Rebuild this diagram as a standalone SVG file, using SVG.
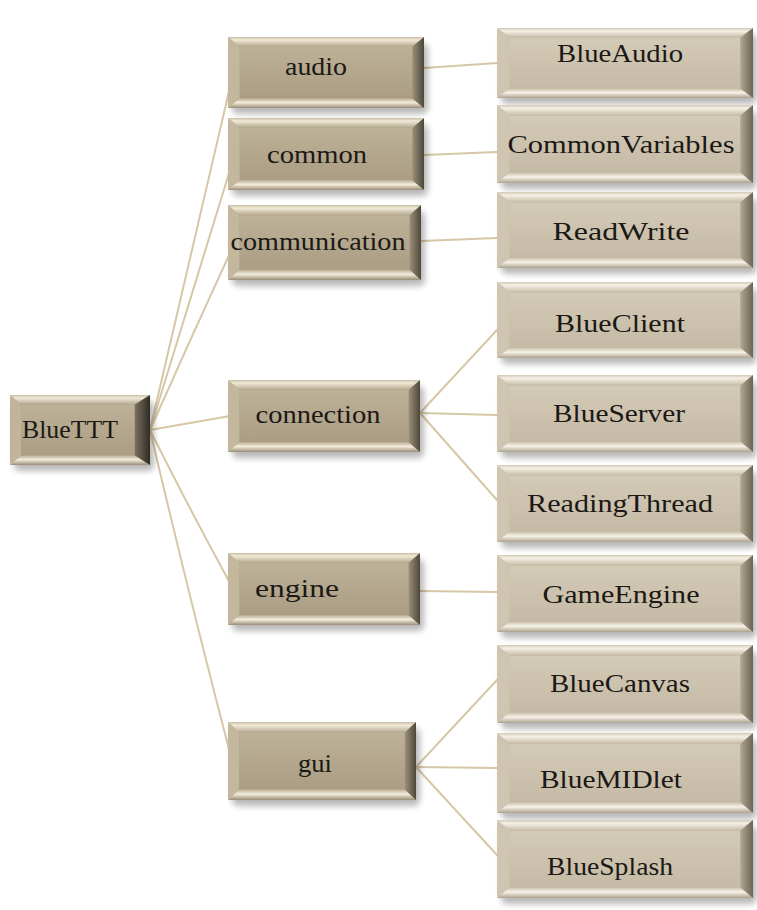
<svg xmlns="http://www.w3.org/2000/svg" xmlns:xlink="http://www.w3.org/1999/xlink" width="757" height="910" viewBox="0 0 757 910">
<style>
  .lbl { font-family: "Liberation Serif", "DejaVu Serif", serif; font-size: 26px; fill: #1b1815; text-anchor: middle; }
  .sh { fill: #000; opacity: 0.28; filter: url(#blur); }
  .con { fill: none; stroke: #d6c7a7; stroke-width: 2; stroke-linecap: round; }
</style>
<defs>
  <filter id="blur" x="-20%" y="-30%" width="140%" height="160%"><feGaussianBlur stdDeviation="3"/></filter>
  <linearGradient id="topM" x1="0" y1="0" x2="0" y2="1"><stop offset="0" stop-color="#c9bda4"/><stop offset="0.3" stop-color="#f1ead8"/><stop offset="1" stop-color="#b2a68d"/></linearGradient>
  <linearGradient id="botM" x1="0" y1="0" x2="0" y2="1"><stop offset="0" stop-color="#b8ab91"/><stop offset="0.45" stop-color="#f3ecdb"/><stop offset="1" stop-color="#9a8d74"/></linearGradient>
  <linearGradient id="rgtM" x1="0" y1="0" x2="1" y2="0"><stop offset="0" stop-color="#9d917a"/><stop offset="1" stop-color="#4d463a"/></linearGradient>
  <linearGradient id="faceM" x1="0" y1="0" x2="0" y2="1"><stop offset="0" stop-color="#bdb197"/><stop offset="1" stop-color="#aa9d83"/></linearGradient>
  <linearGradient id="topL" x1="0" y1="0" x2="0" y2="1"><stop offset="0" stop-color="#d2c8b5"/><stop offset="0.3" stop-color="#f5f1e6"/><stop offset="1" stop-color="#c4b9a4"/></linearGradient>
  <linearGradient id="botL" x1="0" y1="0" x2="0" y2="1"><stop offset="0" stop-color="#c6bba6"/><stop offset="0.45" stop-color="#f7f3e9"/><stop offset="1" stop-color="#aca18c"/></linearGradient>
  <linearGradient id="rgtL" x1="0" y1="0" x2="1" y2="0"><stop offset="0" stop-color="#b2a792"/><stop offset="1" stop-color="#6c6454"/></linearGradient>
  <linearGradient id="faceL" x1="0" y1="0" x2="0" y2="1"><stop offset="0" stop-color="#d3cab7"/><stop offset="1" stop-color="#c5baa5"/></linearGradient>
  <linearGradient id="rgtR" x1="0" y1="0" x2="1" y2="0"><stop offset="0" stop-color="#7d7260"/><stop offset="1" stop-color="#2f2a23"/></linearGradient>
  <symbol id="boxM" viewBox="0 0 200 72" preserveAspectRatio="none">
    <rect x="0" y="0" width="200" height="72" rx="6" fill="#ada087"/>
    <polygon points="0,0 200,0 188,10 12,10" fill="url(#topM)"/>
    <polygon points="0,0 12,10 12,62 0,72" fill="#c3b79e"/>
    <polygon points="0,72 200,72 188,62 12,62" fill="url(#botM)"/>
    <polygon points="200,0 200,72 188,62 188,10" fill="url(#rgtM)"/>
    <rect x="12" y="10" width="176" height="52" fill="url(#faceM)"/>
  </symbol>
  <symbol id="boxL" viewBox="0 0 200 72" preserveAspectRatio="none">
    <rect x="0" y="0" width="200" height="72" rx="6" fill="#c0b5a0"/>
    <polygon points="0,0 200,0 190,10 10,10" fill="url(#topL)"/>
    <polygon points="0,0 10,10 10,62 0,72" fill="#cfc5b1"/>
    <polygon points="0,72 200,72 190,62 10,62" fill="url(#botL)"/>
    <polygon points="200,0 200,72 190,62 190,10" fill="url(#rgtL)"/>
    <rect x="10" y="10" width="180" height="52" fill="url(#faceL)"/>
  </symbol>
  <symbol id="boxR" viewBox="0 0 200 72" preserveAspectRatio="none">
    <rect x="0" y="0" width="200" height="72" rx="8" fill="#a5987f"/>
    <polygon points="0,0 200,0 178,10 16,10" fill="url(#topM)"/>
    <polygon points="0,0 16,10 16,62 0,72" fill="#c0b49b"/>
    <polygon points="0,72 200,72 178,62 16,62" fill="url(#botM)"/>
    <polygon points="200,0 200,72 178,62 178,10" fill="url(#rgtR)"/>
    <rect x="16" y="10" width="162" height="52" fill="url(#faceM)"/>
  </symbol>
</defs>
<rect width="757" height="910" fill="#ffffff"/>

<g id="connectors">
  <path class="con" d="M150,430 Q190,260 230,87"/>
  <path class="con" d="M150,430 Q190,300 230,170"/>
  <path class="con" d="M150,430 Q190,340 230,253"/>
  <path class="con" d="M150,430 L230,416"/>
  <path class="con" d="M150,430 Q190,510 230,583"/>
  <path class="con" d="M150,430 Q190,600 230,753"/>
  <path class="con" d="M424,68 L497,63"/>
  <path class="con" d="M424,155 L497,152"/>
  <path class="con" d="M421,241 L497,238"/>
  <path class="con" d="M420,413 L497,330"/>
  <path class="con" d="M420,413 L497,415"/>
  <path class="con" d="M420,413 L497,500"/>
  <path class="con" d="M420,591 L497,592"/>
  <path class="con" d="M416,767 L497,680"/>
  <path class="con" d="M416,767 L497,768"/>
  <path class="con" d="M416,767 L497,855"/>
</g>

<g id="node-BlueTTT">
  <rect class="sh" x="14" y="401" width="140" height="70" rx="6"/>
  <use xlink:href="#boxR" x="10" y="395" width="140" height="70"/>
  <text class="lbl" x="70" y="438" textLength="96" lengthAdjust="spacingAndGlyphs">BlueTTT</text>
</g>

<g id="node-audio">
  <rect class="sh" x="232" y="43" width="196" height="71" rx="6"/>
  <use xlink:href="#boxM" x="228" y="37" width="196" height="71"/>
  <text class="lbl" x="316" y="75" textLength="62" lengthAdjust="spacingAndGlyphs">audio</text>
</g>
<g id="node-common">
  <rect class="sh" x="232" y="124" width="196" height="72" rx="6"/>
  <use xlink:href="#boxM" x="228" y="118" width="196" height="72"/>
  <text class="lbl" x="317" y="163" textLength="100" lengthAdjust="spacingAndGlyphs">common</text>
</g>
<g id="node-communication">
  <rect class="sh" x="232" y="211" width="193" height="75" rx="6"/>
  <use xlink:href="#boxM" x="228" y="205" width="193" height="75"/>
  <text class="lbl" x="318" y="250" textLength="175" lengthAdjust="spacingAndGlyphs">communication</text>
</g>
<g id="node-connection">
  <rect class="sh" x="232" y="386" width="192" height="72" rx="6"/>
  <use xlink:href="#boxM" x="228" y="380" width="192" height="72"/>
  <text class="lbl" x="318" y="423" textLength="125" lengthAdjust="spacingAndGlyphs">connection</text>
</g>
<g id="node-engine">
  <rect class="sh" x="232" y="559" width="192" height="72" rx="6"/>
  <use xlink:href="#boxM" x="228" y="553" width="192" height="72"/>
  <text class="lbl" x="297" y="597" textLength="84" lengthAdjust="spacingAndGlyphs">engine</text>
</g>
<g id="node-gui">
  <rect class="sh" x="232" y="728" width="188" height="78" rx="6"/>
  <use xlink:href="#boxM" x="228" y="722" width="188" height="78"/>
  <text class="lbl" x="315" y="772" textLength="34" lengthAdjust="spacingAndGlyphs">gui</text>
</g>

<g id="node-BlueAudio">
  <rect class="sh" x="501" y="34" width="256" height="70" rx="6"/>
  <use xlink:href="#boxL" x="497" y="28" width="256" height="70"/>
  <text class="lbl" x="620" y="62" textLength="126" lengthAdjust="spacingAndGlyphs">BlueAudio</text>
</g>
<g id="node-CommonVariables">
  <rect class="sh" x="501" y="111" width="256" height="78" rx="6"/>
  <use xlink:href="#boxL" x="497" y="105" width="256" height="78"/>
  <text class="lbl" x="621" y="153" textLength="227" lengthAdjust="spacingAndGlyphs">CommonVariables</text>
</g>
<g id="node-ReadWrite">
  <rect class="sh" x="501" y="198" width="256" height="76" rx="6"/>
  <use xlink:href="#boxL" x="497" y="192" width="256" height="76"/>
  <text class="lbl" x="621" y="240" textLength="137" lengthAdjust="spacingAndGlyphs">ReadWrite</text>
</g>
<g id="node-BlueClient">
  <rect class="sh" x="501" y="288" width="256" height="76" rx="6"/>
  <use xlink:href="#boxL" x="497" y="282" width="256" height="76"/>
  <text class="lbl" x="620" y="332" textLength="130" lengthAdjust="spacingAndGlyphs">BlueClient</text>
</g>
<g id="node-BlueServer">
  <rect class="sh" x="501" y="381" width="256" height="77" rx="6"/>
  <use xlink:href="#boxL" x="497" y="375" width="256" height="77"/>
  <text class="lbl" x="619" y="422" textLength="132" lengthAdjust="spacingAndGlyphs">BlueServer</text>
</g>
<g id="node-ReadingThread">
  <rect class="sh" x="501" y="471" width="256" height="77" rx="6"/>
  <use xlink:href="#boxL" x="497" y="465" width="256" height="77"/>
  <text class="lbl" x="620" y="512" textLength="186" lengthAdjust="spacingAndGlyphs">ReadingThread</text>
</g>
<g id="node-GameEngine">
  <rect class="sh" x="501" y="561" width="256" height="77" rx="6"/>
  <use xlink:href="#boxL" x="497" y="555" width="256" height="77"/>
  <text class="lbl" x="621" y="603" textLength="157" lengthAdjust="spacingAndGlyphs">GameEngine</text>
</g>
<g id="node-BlueCanvas">
  <rect class="sh" x="501" y="651" width="256" height="78" rx="6"/>
  <use xlink:href="#boxL" x="497" y="645" width="256" height="78"/>
  <text class="lbl" x="620" y="692" textLength="140" lengthAdjust="spacingAndGlyphs">BlueCanvas</text>
</g>
<g id="node-BlueMIDlet">
  <rect class="sh" x="501" y="739" width="256" height="80" rx="6"/>
  <use xlink:href="#boxL" x="497" y="733" width="256" height="80"/>
  <text class="lbl" x="611" y="788" textLength="142" lengthAdjust="spacingAndGlyphs">BlueMIDlet</text>
</g>
<g id="node-BlueSplash">
  <rect class="sh" x="501" y="826" width="256" height="78" rx="6"/>
  <use xlink:href="#boxL" x="497" y="820" width="256" height="78"/>
  <text class="lbl" x="610" y="875" textLength="126" lengthAdjust="spacingAndGlyphs">BlueSplash</text>
</g>
</svg>
